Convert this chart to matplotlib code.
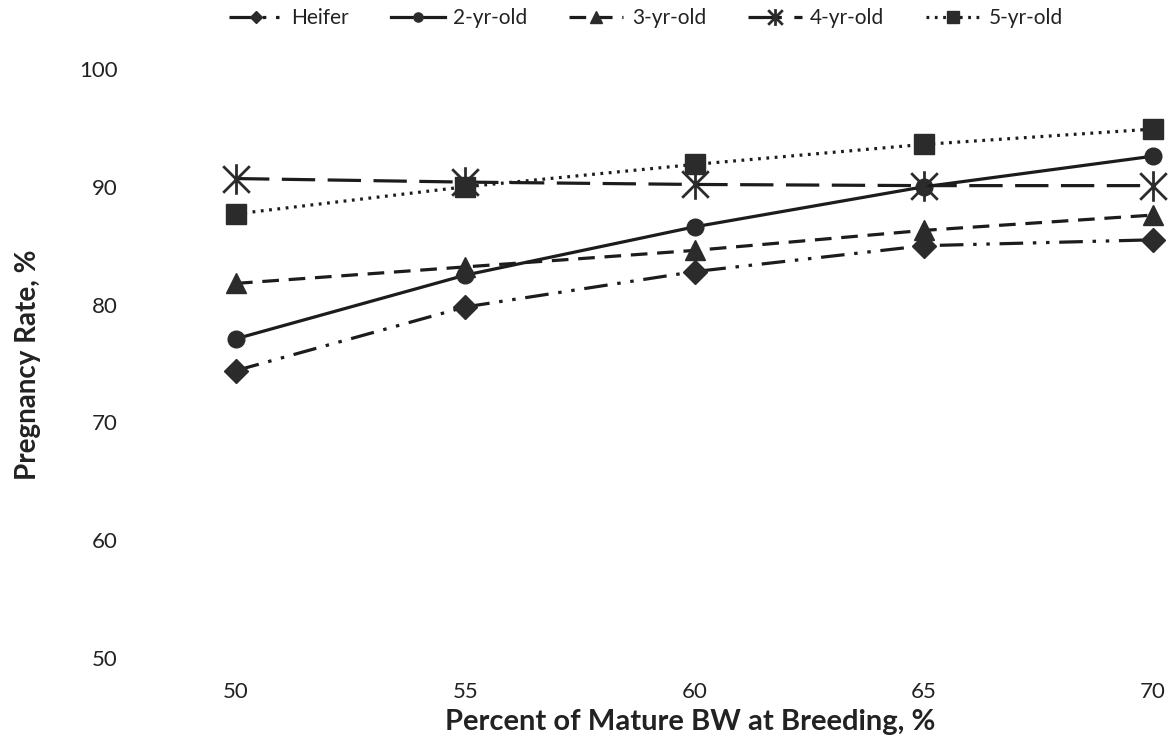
import matplotlib
matplotlib.use("Agg")
import matplotlib.pyplot as plt
from matplotlib.path import Path

plt.rcParams['font.family'] = ['Lato', 'DejaVu Sans']
plt.rcParams['lines.scale_dashes'] = False

x = [50, 55, 60, 65, 70]
heifer = [74.4, 79.8, 82.8, 85.0, 85.5]
yr2 = [77.1, 82.5, 86.6, 90.0, 92.6]
yr3 = [81.8, 83.2, 84.6, 86.3, 87.6]
yr4 = [90.7, 90.4, 90.2, 90.1, 90.1]
yr5 = [87.7, 90.0, 91.9, 93.6, 94.9]
labels = ['Heifer', '2-yr-old', '3-yr-old', '4-yr-old', '5-yr-old']
xticks = [50, 55, 60, 65, 70]
yticks = [50, 60, 70, 80, 90, 100]

# asterisk marker (X plus vertical)
star = Path([(-1, -1), (1, 1), (-1, 1), (1, -1), (0, -1.15), (0, 1.15)],
            [Path.MOVETO, Path.LINETO, Path.MOVETO, Path.LINETO, Path.MOVETO, Path.LINETO])

W, H = 1170, 746
fig = plt.figure(figsize=(W/100, H/100), dpi=100)
ax = fig.add_axes([236/W, 1-658/H, (1153-236)/W, (658-69)/H])

lc = '#1c1c1c'
mc = '#2b2b2b'
lw = 2.3
series = [
    (heifer, (0, (17, 7, 2.5, 7, 2.5, 7)), 'D', 12),
    (yr2, '-', 'o', 12),
    (yr3, (0, (12, 7)), '^', 15),
    (yr4, (0, (24, 9)), star, 22),
    (yr5, (0, (2, 4)), 's', 15),
]
for (vals, ls, mk, ms), lab in zip(series, labels):
    if mk is star:
        ax.plot(x, vals, linestyle=ls, color=lc, lw=lw, marker=mk, ms=ms,
                mfc='none', mec=mc, mew=2.0, label=lab, clip_on=False)
    else:
        ax.plot(x, vals, linestyle=ls, color=lc, lw=lw, marker=mk, ms=ms,
                mfc=mc, mec=mc, label=lab, clip_on=False)

ax.set_xlim(50, 70)
ax.set_ylim(50, 100)
ax.set_xticks(xticks)
ax.set_yticks(yticks)
ax.tick_params(axis='both', length=0, labelsize=16, colors='#222222')
ax.tick_params(axis='y', pad=85)
ax.tick_params(axis='x', pad=17)
for s in ax.spines.values():
    s.set_visible(False)

fig.text(28/W, 1-365/H, 'Pregnancy Rate, %', rotation=90, ha='center', va='center',
         fontsize=20, fontweight='bold', color='#222222')
fig.text(690/W, 1-722/H, 'Percent of Mature BW at Breeding, %', ha='center', va='center',
         fontsize=21, fontweight='bold', color='#222222')

handles, labs = ax.get_legend_handles_labels()
leg = fig.legend(handles, labs, ncol=5, loc='center', bbox_to_anchor=(646/W, 1-18/H),
                 frameon=False, fontsize=15, handlelength=2.6, columnspacing=2.0,
                 handletextpad=0.4, markerscale=0.55)
for t in leg.get_texts():
    t.set_color('#222222')

fig.savefig('out.png', dpi=100)
